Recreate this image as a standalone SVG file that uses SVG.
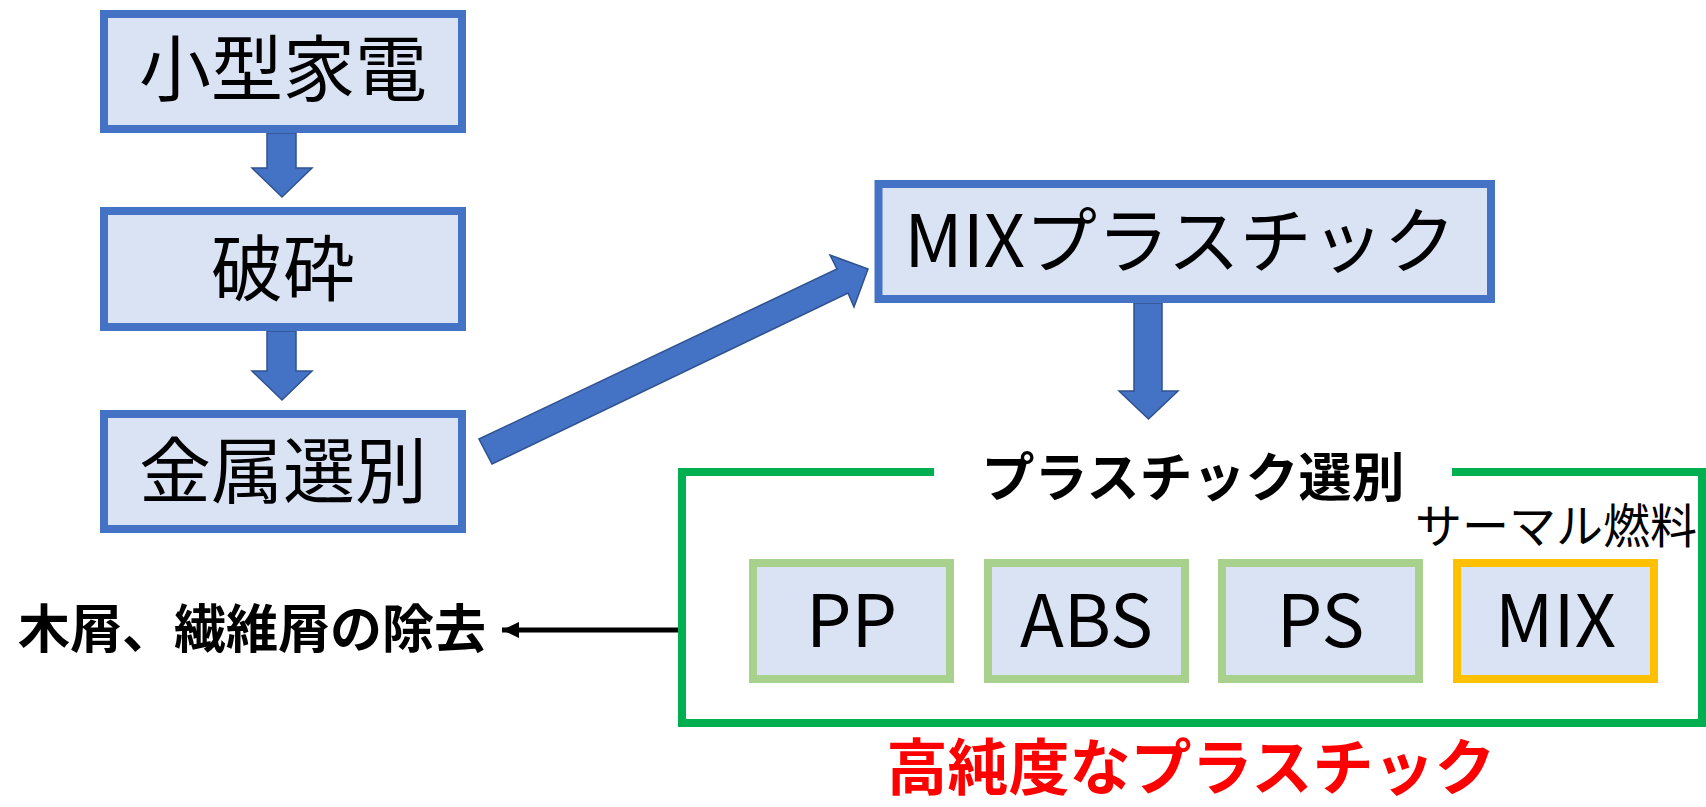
<svg xmlns="http://www.w3.org/2000/svg" width="1706" height="807" viewBox="0 0 1706 807">
<style>
.box{fill:#DAE3F3;stroke:#4472C4;stroke-width:8}
.sub{fill:#DAE3F3;stroke:#A9D18E;stroke-width:8}
.mixsub{fill:#DAE3F3;stroke:#FFC000;stroke-width:8}
.blk{fill:#4472C4;stroke:#2F528F;stroke-width:1.5;stroke-linejoin:miter}
.t{font-family:"Noto Sans CJK JP","Noto Sans",sans-serif;fill:#000;text-anchor:middle}
.b{font-weight:bold}
</style>
<defs>
<marker id="ah" markerUnits="userSpaceOnUse" markerWidth="18" markerHeight="18" refX="17" refY="8" orient="auto">
<path d="M0,0 L17,8 L0,16 Z" fill="#000"/>
</marker>
</defs>
<g id="connectors">
<polygon class="blk" points="267,133 296,133 296,168 312,168 282,197 252,168 267,168"/>
<polygon class="blk" points="267,331 296,331 296,371 312,371 282,400 252,371 267,371"/>
<polygon class="blk" points="479,439 837,269 830,255 868,269 854,307 848,293 492,464"/>
<polygon class="blk" points="1134,303 1162,303 1162,391 1178,391 1148.5,419 1119,391 1134,391"/>
<line x1="680" y1="630" x2="502" y2="630" stroke="#000" stroke-width="5" marker-end="url(#ah)"/>
</g>
<g id="node-kaden">
<rect class="box" x="104" y="14" width="358" height="115"/>
<text class="t" x="283" y="95" font-size="72">小型家電</text>
</g>
<g id="node-hasai">
<rect class="box" x="104" y="211" width="358" height="116"/>
<text class="t" x="283" y="295" font-size="72">破砕</text>
</g>
<g id="node-kinzoku">
<rect class="box" x="104" y="414" width="358" height="115"/>
<text class="t" x="283" y="497" font-size="72">金属選別</text>
</g>
<g id="node-mix-plastic">
<rect class="box" x="878.5" y="184" width="612.5" height="115"/>
<text class="t" x="1180" y="267" font-size="72">MIXプラスチック</text>
</g>
<g id="node-plastic-sort">
<path d="M934,472 L682,472 L682,723 L1702,723 L1702,472 L1452,472" fill="none" stroke="#00B050" stroke-width="8"/>
<text class="t b" x="1193" y="497" font-size="53">プラスチック選別</text>
<text class="t" x="1556" y="543" font-size="47">サーマル燃料</text>
</g>
<g id="node-pp">
<rect class="sub" x="753" y="563" width="197" height="116"/>
<text class="t" x="851.5" y="647" font-size="72">PP</text>
</g>
<g id="node-abs">
<rect class="sub" x="988" y="563" width="197" height="116"/>
<text class="t" x="1086.5" y="647" font-size="72">ABS</text>
</g>
<g id="node-ps">
<rect class="sub" x="1222" y="563" width="197" height="116"/>
<text class="t" x="1320.5" y="647" font-size="72">PS</text>
</g>
<g id="node-mix">
<rect class="mixsub" x="1457" y="563" width="197" height="116"/>
<text class="t" x="1555.5" y="647" font-size="72">MIX</text>
</g>
<g id="node-removal">
<text class="t b" x="252" y="648" font-size="52">木屑、繊維屑の除去</text>
</g>
<g id="node-high-purity">
<text class="t b" x="1191" y="790" font-size="61" style="fill:#FF0000">高純度なプラスチック</text>
</g>
</svg>
